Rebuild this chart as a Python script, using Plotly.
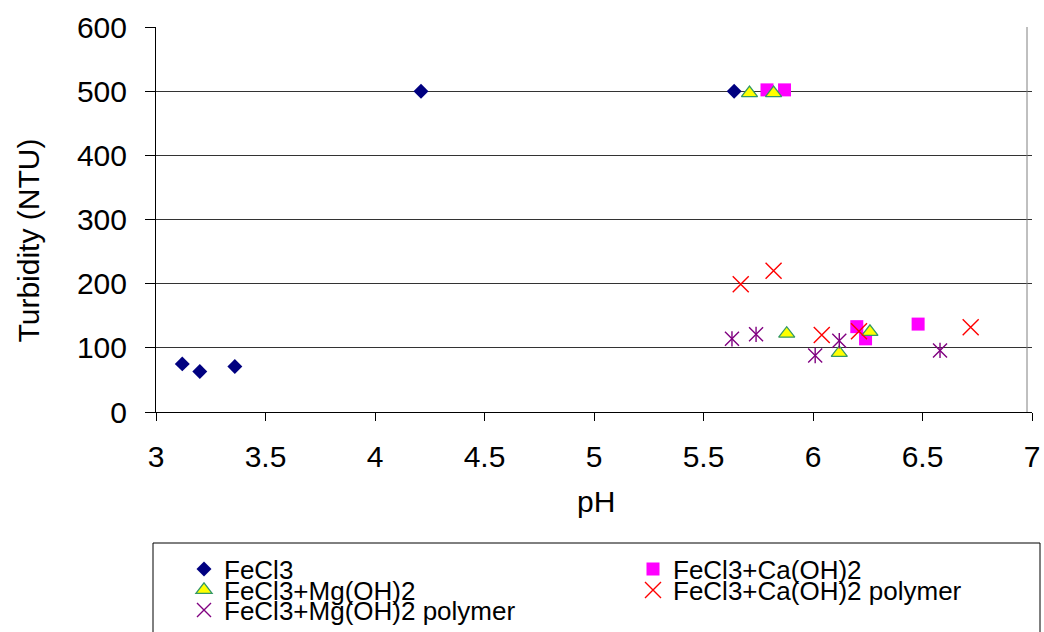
import plotly.graph_objects as go

# ---- data ----
fecl3_ph = [3.12, 3.20, 3.36, 4.21, 5.64]
fecl3_ntu = [75, 63, 71, 500, 500]

ca_ph = [5.79, 5.87, 6.20, 6.24, 6.48]
ca_ntu = [502, 502, 133, 114, 137]

mg_ph = [5.71, 5.82, 5.88, 6.12, 6.26]
mg_ntu = [497, 497, 122, 92, 125]

ca_poly_ph = [5.67, 5.82, 6.04, 6.21, 6.72]
ca_poly_ntu = [199, 220, 120, 126, 132]

mg_poly_ph = [5.63, 5.74, 6.01, 6.12, 6.58]
mg_poly_ntu = [114, 121, 88, 111, 96]

x_ticks = [3, 3.5, 4, 4.5, 5, 5.5, 6, 6.5, 7]
x_tick_text = ["3", "3.5", "4", "4.5", "5", "5.5", "6", "6.5", "7"]
y_ticks = [0, 100, 200, 300, 400, 500, 600]

FONT = "Liberation Sans, Arial, sans-serif"

fig = go.Figure()
fig.add_trace(go.Scatter(x=fecl3_ph, y=fecl3_ntu, mode="markers", name="FeCl3",
                         legend="legend", showlegend=True,
                         marker=dict(symbol="diamond", size=11.5, color="#000080",
                                     line=dict(width=0))))
fig.add_trace(go.Scatter(x=ca_ph, y=ca_ntu, mode="markers", name="FeCl3+Ca(OH)2",
                         legend="legend2", showlegend=True,
                         marker=dict(symbol="square", size=13, color="#FF00FF",
                                     line=dict(width=0))))
fig.add_trace(go.Scatter(x=mg_ph, y=mg_ntu, mode="markers", name="FeCl3+Mg(OH)2",
                         legend="legend3", showlegend=True,
                         marker=dict(symbol="triangle-up", size=14, color="#FFFF00",
                                     line=dict(width=1.3, color="#339966"))))
fig.add_trace(go.Scatter(x=ca_poly_ph, y=ca_poly_ntu, mode="markers",
                         name="FeCl3+Ca(OH)2 polymer", legend="legend4",
                         showlegend=True,
                         marker=dict(symbol="x-thin-open", size=16, color="#FF0000",
                                     line=dict(width=1.4, color="#FF0000"))))
fig.add_trace(go.Scatter(x=mg_poly_ph, y=mg_poly_ntu, mode="markers",
                         name="FeCl3+Mg(OH)2 polymer", legend="legend5",
                         legendgroup="mgp", showlegend=True,
                         marker=dict(symbol="x-thin-open", size=14, color="#800080",
                                     line=dict(width=1.4, color="#800080"))))
fig.add_trace(go.Scatter(x=mg_poly_ph, y=mg_poly_ntu, mode="markers",
                         name="FeCl3+Mg(OH)2 polymer", legend="legend5",
                         legendgroup="mgp", showlegend=False,
                         marker=dict(symbol="line-ns-open", size=11, color="#800080",
                                     line=dict(width=1.4, color="#800080"))))

W, H = 1044, 632
L, R, T, B = 156, 12, 27, 220
pw = W - L - R
ph = H - T - B


def px_x(px):
    return (px - L) / pw


def px_y(py):
    return (H - B - py) / ph


leg_common = dict(orientation="h", xanchor="left", yanchor="middle",
                  bgcolor="rgba(0,0,0,0)", borderwidth=0,
                  font=dict(family=FONT, size=26, color="#000000"))

col1, col2 = 184, 633
row1, row2, row3 = 569, 590, 610

fig.update_layout(
    width=W, height=H,
    showlegend=True,
    margin=dict(l=L, r=R, t=T, b=B, autoexpand=False),
    paper_bgcolor="white", plot_bgcolor="white",
    font=dict(family=FONT, size=30, color="#000000"),
    xaxis=dict(range=[3, 7], tickvals=x_ticks, ticktext=x_tick_text,
               showgrid=False, zeroline=False, showline=True,
               linecolor="#000000", linewidth=1, ticks="outside", ticklen=8,
               tickcolor="#000000", tickwidth=1, ticklabelstandoff=10,
               tickfont=dict(size=30)),
    yaxis=dict(range=[0, 600], tickvals=y_ticks, showgrid=True,
               gridcolor="#333333", gridwidth=1, zeroline=False, showline=True,
               linecolor="#000000", linewidth=1, ticks="outside", ticklen=10,
               tickcolor="#000000", tickwidth=1, ticklabelstandoff=12,
               tickfont=dict(size=30)),
    legend=dict(x=px_x(col1), y=px_y(row1), **leg_common),
    legend2=dict(x=px_x(col2), y=px_y(row1), **leg_common),
    legend3=dict(x=px_x(col1), y=px_y(row2), **leg_common),
    legend4=dict(x=px_x(col2), y=px_y(row2), **leg_common),
    legend5=dict(x=px_x(col1), y=px_y(row3), **leg_common),
    shapes=[
        dict(type="line", xref="paper", yref="y", x0=px_x(1027), x1=px_x(1027),
             y0=0, y1=600, line=dict(color="#808080", width=1)),
        dict(type="rect", xref="paper", yref="paper", x0=px_x(153), x1=px_x(1040),
             y0=px_y(543), y1=px_y(660), line=dict(color="#000000", width=1),
             fillcolor="rgba(0,0,0,0)"),
    ],
    annotations=[
        dict(text="Turbidity (NTU)", textangle=-90, xref="paper", yref="paper",
             x=px_x(28), y=px_y(240.5), xanchor="center", yanchor="middle",
             showarrow=False, font=dict(size=30)),
        dict(text="pH", xref="paper", yref="paper", x=px_x(596), y=px_y(501),
             xanchor="center", yanchor="middle", showarrow=False,
             font=dict(size=30)),
    ],
)

fig.write_html("out.html")
